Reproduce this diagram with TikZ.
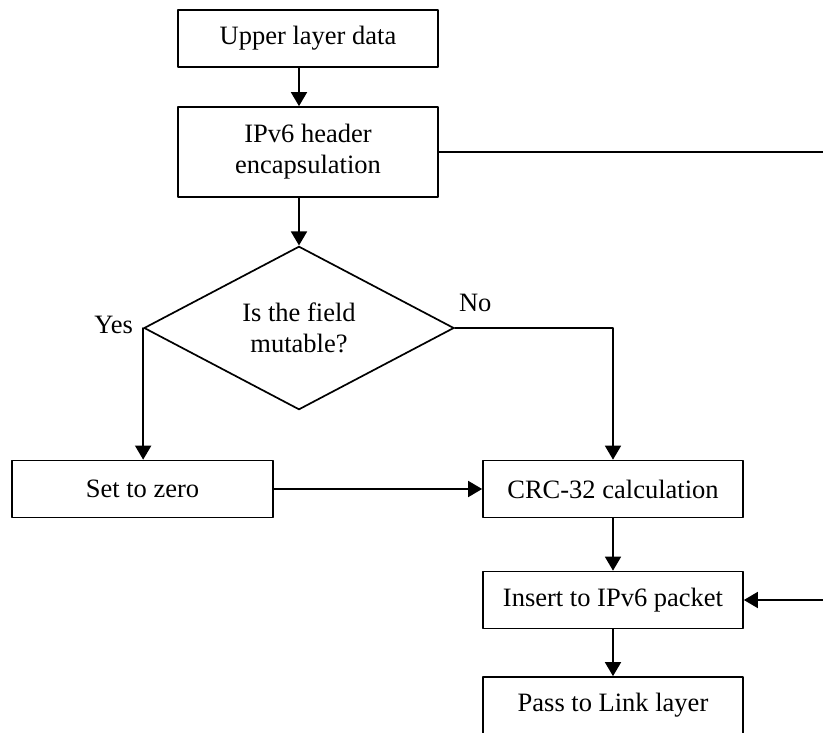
\documentclass[tikz,border=0pt]{standalone}
\usepackage{fontspec}
\setmainfont{Liberation Serif}
\usetikzlibrary{arrows.meta,shapes.geometric}
\begin{document}
\begin{tikzpicture}[x=1pt,y=-1pt,line cap=round,line join=round,>={Triangle[width=16pt,length=14pt]},
  every node/.style={font=\fontsize{26.5}{31}\selectfont},
  box/.style={draw,line width=1.7pt,minimum width=260pt,minimum height=57pt,inner sep=0pt,align=center},
  dec/.style={draw,diamond,line width=1.7pt,minimum width=310pt,minimum height=150pt,inner sep=0pt,align=center},
  line/.style={line width=1.7pt}]
\useasboundingbox (0,0) rectangle (823,733);
\clip (0,0) rectangle (823,733);
\node[box] (up) at (308,38.5) {Upper layer data};
\node[box,minimum height=90pt] (hdr) at (308,152) {IPv6 header\\encapsulation};
\node[dec] (dia) at (299,328) {Is the field\\mutable?};
\node[box,minimum width=261pt] (zero) at (142.5,489) {Set to zero};
\node[box] (crc) at (613,489) {CRC-32 calculation};
\node[box] (ins) at (613,600) {Insert to IPv6 packet};
\node[box] (pass) at (613,705.5) {Pass to Link layer};
\node[anchor=base east,inner sep=0pt,xshift=-10pt,yshift=-6pt] (yes) at (dia.west) {Yes};
\node[anchor=base west,inner sep=0pt,xshift=4pt,yshift=16pt] (no) at (dia.east) {No};
\coordinate (rt) at (832,152);
% main flow
\draw[line,->] (up.south -| dia.north) -- (hdr.north -| dia.north);
\draw[line,->] (hdr.south -| dia.north) -- (dia.north);
\draw[line,->] (dia.west) -- (dia.west |- zero.north);
\draw[line,->] (dia.east) -| (crc.north);
\draw[line,->] (zero.east) -- (crc.west);
\draw[line,->] (crc.south) -- (ins.north);
\draw[line,->] (ins.south) -- (pass.north);
% loop round the right side
\draw[line,->] (hdr.east) -- (rt) |- (ins.east);
\end{tikzpicture}
\end{document}
